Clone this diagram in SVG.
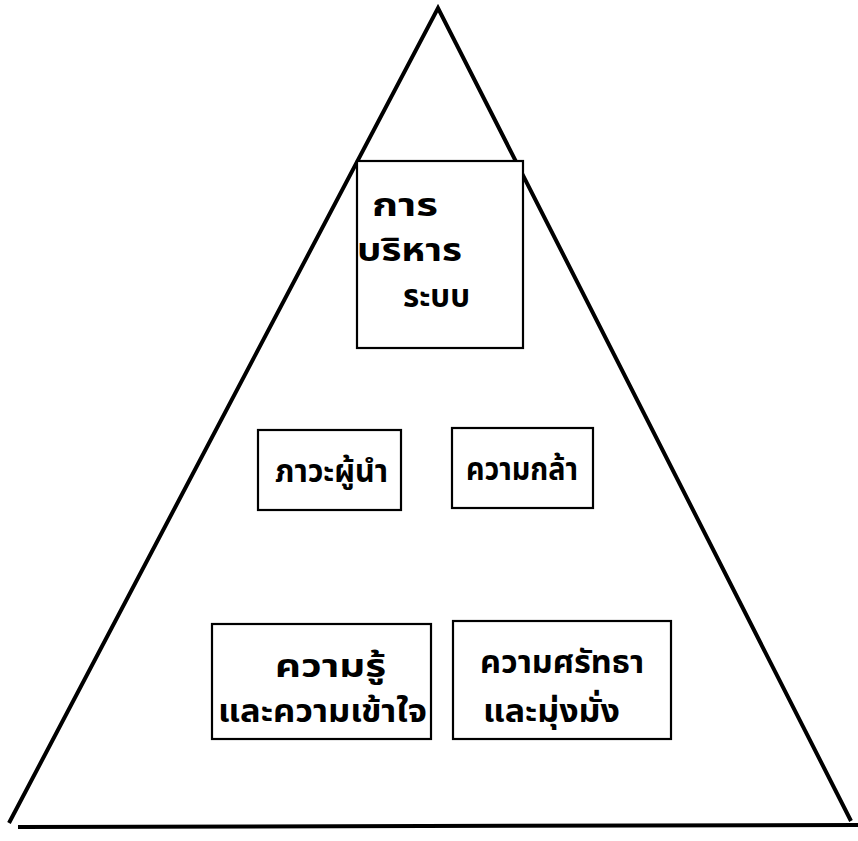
<svg xmlns="http://www.w3.org/2000/svg" width="858" height="841" viewBox="0 0 858 841">
<style>
.ln{stroke:#000;stroke-width:4;fill:none;stroke-linecap:butt}
.box{fill:#fff;stroke:#000;stroke-width:2.2}
.t{font-family:"Noto Sans Thai","Tahoma","Noto Sans","DejaVu Sans",sans-serif;font-weight:bold;font-size:32px;fill:#000}
</style>
<rect width="858" height="841" fill="#fff"/>
<g id="connectors">
<polyline class="ln" points="9,823 438,8 851,821"/>
<line class="ln" x1="18" y1="827" x2="858" y2="825"/>
</g>
<g id="n1">
<rect class="box" x="357" y="161" width="166" height="187"/>
<text class="t" x="372" y="216" textLength="66" lengthAdjust="spacingAndGlyphs">การ</text>
<text class="t" x="357" y="261" textLength="105" lengthAdjust="spacingAndGlyphs">บริหาร</text>
<text class="t" x="403" y="307" textLength="67" lengthAdjust="spacingAndGlyphs">ระบบ</text>
</g>
<g id="n2">
<rect class="box" x="258" y="430" width="143" height="80"/>
<text class="t" x="275" y="482" textLength="113" lengthAdjust="spacingAndGlyphs">ภาวะผู้นำ</text>
</g>
<g id="n3">
<rect class="box" x="452" y="428" width="141" height="80"/>
<text class="t" x="466" y="480" textLength="112" lengthAdjust="spacingAndGlyphs">ความกล้า</text>
</g>
<g id="n4">
<rect class="box" x="212" y="624" width="219" height="115"/>
<text class="t" x="275" y="677" textLength="111" lengthAdjust="spacingAndGlyphs">ความรู้</text>
<text class="t" x="218" y="722" textLength="209" lengthAdjust="spacingAndGlyphs">และความเข้าใจ</text>
</g>
<g id="n5">
<rect class="box" x="453" y="621" width="218" height="118"/>
<text class="t" x="480" y="673" textLength="164" lengthAdjust="spacingAndGlyphs">ความศรัทธา</text>
<text class="t" x="483" y="722" textLength="137" lengthAdjust="spacingAndGlyphs">และมุ่งมั่ง</text>
</g>
</svg>
